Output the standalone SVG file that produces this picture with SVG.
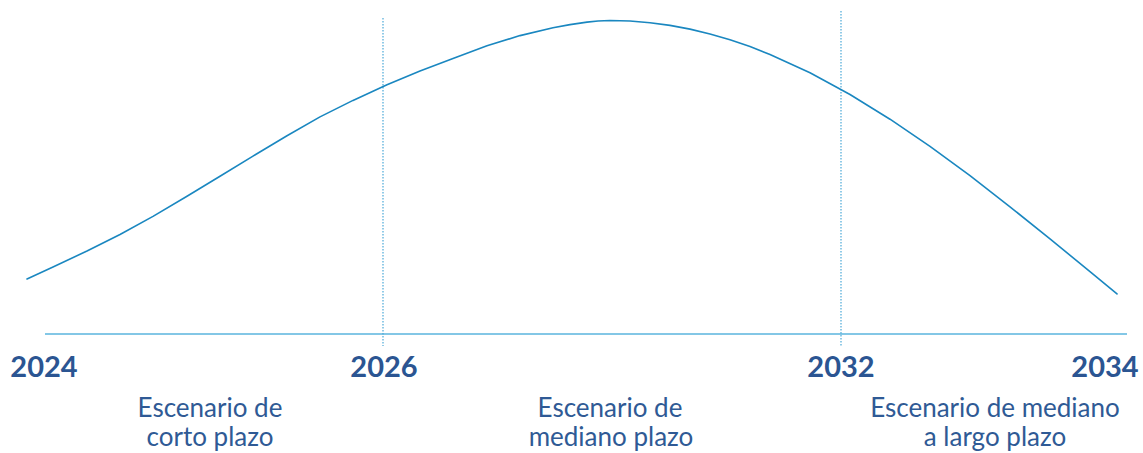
<svg xmlns="http://www.w3.org/2000/svg" width="1143" height="453" viewBox="0 0 1143 453">
<style>
.year{font-family:Lato,"Noto Sans","Liberation Sans",sans-serif;font-weight:bold;font-size:29px;fill:#2b5592;text-anchor:middle}
.lbl{font-family:Lato,"Noto Sans","Liberation Sans",sans-serif;font-size:26px;fill:#2f5a95;text-anchor:middle}
.div{stroke:#4aa8d8;stroke-width:1.2;stroke-dasharray:1.5 1.5;fill:none}
</style>
<rect width="1143" height="453" fill="#ffffff"/>
<g id="axis">
<line x1="45" y1="334" x2="1127" y2="334" stroke="#5ab4de" stroke-width="1.5"/>
</g>
<g id="connectors">
<line class="div" x1="383" y1="18" x2="383" y2="346"/>
<line class="div" x1="841" y1="11" x2="841" y2="346"/>
<polyline id="curve" fill="none" stroke="#1a87c0" stroke-width="1.6" stroke-linejoin="round" stroke-linecap="round" points="27,279 53,267 87,251 120,234.5 153,216.4 187,196.3 220,176.2 253,156.1 287,135.7 320,116.9 353,100.4 387,84.8 420,70.9 453,58.4 487,45.8 520,35.6 553,27.7 570,24.6 587,22.1 598,21 610,20.5 630,21 650,22.7 670,25.4 690,29.1 710,34 730,39.8 750,46.6 770,54.4 810,72.8 850,94.5 890,119.2 930,146.4 970,175.7 1010,206.8 1050,238.9 1090,271.6 1117,293.9"/>
</g>
<g id="y2024"><text class="year" x="44" y="377">2024</text></g>
<g id="y2026"><text class="year" x="384" y="377">2026</text></g>
<g id="y2032"><text class="year" x="841" y="377">2032</text></g>
<g id="y2034"><text class="year" x="1105" y="377">2034</text></g>
<g id="corto"><text class="lbl" x="210" y="417">Escenario de</text><text class="lbl" x="210" y="446">corto plazo</text></g>
<g id="mediano"><text class="lbl" x="610" y="417">Escenario de</text><text class="lbl" x="611" y="446">mediano plazo</text></g>
<g id="largo"><text class="lbl" x="995" y="417">Escenario de mediano</text><text class="lbl" x="995" y="446">a largo plazo</text></g>
</svg>
